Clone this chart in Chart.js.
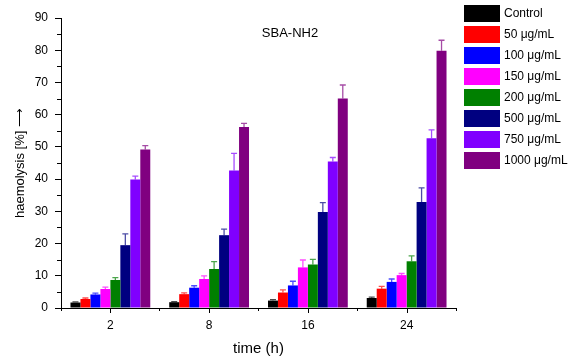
<!DOCTYPE html>
<html>
<head>
<meta charset="utf-8">
<script src="https://cdn.jsdelivr.net/npm/chart.js@4.4.1/dist/chart.umd.min.js"></script>
<style>
  html, body { margin: 0; padding: 0; background: #fff; }
  #chart { display: block; }
</style>
</head>
<body>
<canvas id="chart" width="573" height="362"></canvas>
<script>
// time points (h)
const hours = ['2', '8', '16', '24'];

// mean haemolysis (%) for each concentration
const control = [1.7, 1.8, 2.3, 3.1];
const c50 = [2.8, 4.3, 4.8, 6.0];
const c100 = [4.2, 6.3, 7.0, 8.1];
const c150 = [5.9, 9.0, 12.6, 10.2];
const c200 = [8.7, 12.1, 13.5, 14.5];
const c500 = [19.5, 22.6, 29.8, 32.9];
const c750 = [39.9, 42.7, 45.5, 52.7];
const c1000 = [49.2, 56.2, 65.0, 79.8];

// standard deviations (upper bars only)
const controlErr = [0.2, 0.2, 0.3, 0.3];
const c50Err = [0.3, 0.4, 0.8, 0.7];
const c100Err = [0.4, 0.6, 1.3, 0.9];
const c150Err = [0.6, 1.0, 2.3, 0.5];
const c200Err = [0.7, 2.3, 1.6, 1.7];
const c500Err = [3.5, 1.9, 2.9, 4.4];
const c750Err = [1.0, 5.3, 1.2, 2.6];
const c1000Err = [1.2, 1.1, 4.2, 3.3];

const seriesNames = ['Control', '50 \u03BCg/mL', '100 \u03BCg/mL', '150 \u03BCg/mL',
                     '200 \u03BCg/mL', '500 \u03BCg/mL', '750 \u03BCg/mL', '1000 \u03BCg/mL'];
const seriesValues = [control, c50, c100, c150, c200, c500, c750, c1000];
const seriesErrors = [controlErr, c50Err, c100Err, c150Err, c200Err, c500Err, c750Err, c1000Err];
const seriesColors = ['#000000', '#ff0000', '#0000ff', '#ff00ff',
                      '#008000', '#000080', '#8000ff', '#800080'];
const errColors = ['rgba(0,0,0,0.7)', 'rgba(255,0,0,0.7)', 'rgba(0,0,255,0.7)', 'rgba(255,0,255,0.7)',
                   'rgba(0,128,0,0.7)', 'rgba(0,0,128,0.7)', 'rgba(128,0,255,0.7)', 'rgba(128,0,128,0.7)'];

const yTicks = [0, 10, 20, 30, 40, 50, 60, 70, 80, 90];

Chart.defaults.font.family = "'Liberation Sans', Arial, sans-serif";
Chart.defaults.color = '#000';

const datasets = seriesNames.map((name, i) => ({
  label: name,
  data: seriesValues[i],
  errors: seriesErrors[i],
  errColor: errColors[i],
  backgroundColor: seriesColors[i],
  borderWidth: 0,
  barPercentage: 1,
  categoryPercentage: 0.808
}));

// upper error bars with caps
const errorBars = {
  id: 'errorBars',
  afterDatasetsDraw(chart) {
    const ctx = chart.ctx;
    const y = chart.scales.y;
    ctx.save();
    chart.data.datasets.forEach((ds, i) => {
      const meta = chart.getDatasetMeta(i);
      meta.data.forEach((bar, j) => {
        const top = y.getPixelForValue(ds.data[j] + ds.errors[j]);
        ctx.strokeStyle = ds.errColor;
        ctx.lineWidth = 1.3;
        ctx.beginPath();
        ctx.moveTo(bar.x, bar.y);
        ctx.lineTo(bar.x, top);
        ctx.moveTo(bar.x - 3, top);
        ctx.lineTo(bar.x + 3, top);
        ctx.stroke();
      });
    });
    ctx.restore();
  }
};

// minor y ticks, major x ticks, title and legend box
const decorations = {
  id: 'decorations',
  afterDraw(chart) {
    const ctx = chart.ctx;
    const x = chart.scales.x;
    const y = chart.scales.y;
    const area = chart.chartArea;
    ctx.save();
    ctx.strokeStyle = '#000';
    ctx.lineWidth = 1;
    ctx.beginPath();
    for (let v = 5; v < 90; v += 10) {
      const py = Math.round(y.getPixelForValue(v)) + 0.5;
      ctx.moveTo(area.left - 4, py);
      ctx.lineTo(area.left, py);
    }
    hours.forEach((h, i) => {
      const px = Math.round(x.getPixelForValue(i)) + 0.5;
      ctx.moveTo(px, area.bottom);
      ctx.lineTo(px, area.bottom + 5);
    });
    ctx.stroke();

    ctx.fillStyle = '#000';
    ctx.font = "13px 'Liberation Sans', Arial, sans-serif";
    ctx.textAlign = 'center';
    ctx.textBaseline = 'middle';
    ctx.fillText('SBA-NH2', 290, 33);

    ctx.font = "12px 'Liberation Sans', Arial, sans-serif";
    ctx.textAlign = 'left';
    seriesNames.forEach((name, i) => {
      const top = 5 + i * 21;
      ctx.fillStyle = seriesColors[i];
      ctx.fillRect(464, top, 36, 17);
      ctx.fillStyle = '#000';
      ctx.fillText(name, 504, top + 9);
    });
    ctx.restore();
  }
};

new Chart(document.getElementById('chart'), {
  type: 'bar',
  data: { labels: hours, datasets: datasets },
  options: {
    responsive: false,
    animation: false,
    layout: { padding: { left: 0, right: 117, top: 18, bottom: 0 } },
    plugins: {
      legend: { display: false },
      tooltip: { enabled: false }
    },
    scales: {
      x: {
        offset: true,
        grid: { offset: true, drawOnChartArea: false, tickLength: 3, color: '#000' },
        border: { color: '#000', width: 1 },
        ticks: { padding: 7, font: { size: 12 }, color: '#000' },
        title: { display: true, text: 'time (h)', font: { size: 15 }, color: '#000', padding: { top: 0, bottom: 4 } },
        afterFit(s) { s.height = 54; }
      },
      y: {
        min: 0,
        max: 90,
        afterBuildTicks(s) { s.ticks = yTicks.map(v => ({ value: v })); },
        grid: { drawOnChartArea: false, tickLength: 6, color: '#000' },
        border: { color: '#000', width: 1 },
        ticks: { padding: 7, font: { size: 12 }, color: '#000' },
        title: { display: true, text: 'haemolysis [%] \u27F6', font: { size: 13 }, color: '#000', padding: { top: 13, bottom: 0 } },
        afterFit(s) { s.width = 61; }
      }
    }
  },
  plugins: [errorBars, decorations]
});
</script>
</body>
</html>
